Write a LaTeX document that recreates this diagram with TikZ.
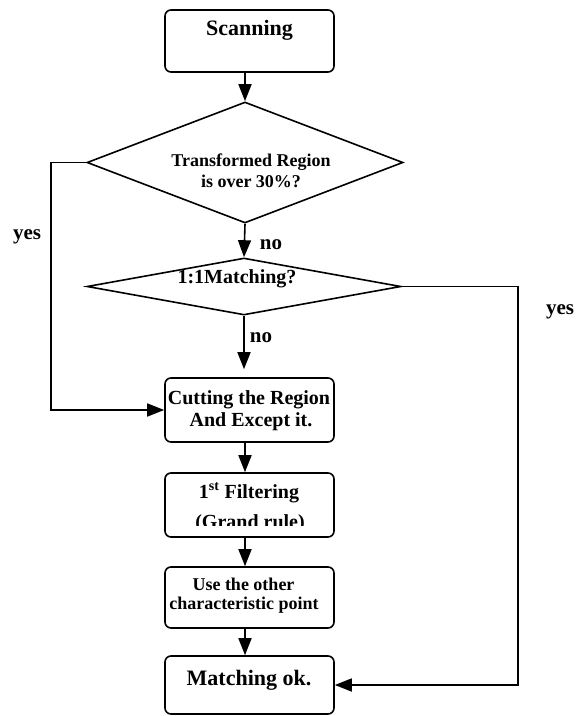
\documentclass[tikz,border=0pt]{standalone}
\usepackage{fontspec}
\setmainfont{Liberation Serif}
\usetikzlibrary{arrows.meta,shapes.geometric,calc}
\begin{document}
\begin{tikzpicture}[x=1pt,y=-1pt,
  box/.style={draw,line width=1.6pt,rounded corners=6pt,minimum width=169pt,inner sep=0pt},
  dia/.style={draw,diamond,line width=1.6pt,inner sep=0pt},
  txt/.style={anchor=base,font=\bfseries,inner sep=0pt},
  big/.style={txt,font=\bfseries\fontsize{22}{26}\selectfont},
  mid/.style={txt,font=\bfseries\fontsize{20}{24}\selectfont},
  sml/.style={txt,font=\bfseries\fontsize{18}{22}\selectfont},
  lbl/.style={txt,font=\bfseries\fontsize{21}{25}\selectfont},
  conn/.style={line width=1.6pt,-{Triangle[length=17pt,width=13pt]}}]
\useasboundingbox (0,0) rectangle (584,716);

% shapes
\node[box,minimum height=62pt] (scan) at (249.5,41) {};
\node[dia,minimum width=316pt,minimum height=121pt] (d1) at (245,162.5) {};
\node[dia,minimum width=314pt,minimum height=57pt] (d2) at (244,286.5) {};
\node[box,minimum height=64pt] (cut) at (249.5,410) {};
\node[box,minimum height=64pt] (filt) at (249.5,505) {};
\node[box,minimum height=61pt] (use) at (249.5,597.5) {};
\node[box,minimum height=58pt] (match) at (249.5,685) {};

% texts
\node[big] (tscan) at (249.5,35) {Scanning};
\node[sml] (td1a) at (251,166) {Transformed Region};
\node[sml] (td1b) at (251,187) {is over 30\%?};
\node[mid] (td2) at (237,283) {1:1Matching?};
\node[mid] (tcuta) at (249,404) {Cutting the Region};
\node[mid] (tcutb) at (251,426) {And Except it.};
\node[mid] (tfilt) at (249,498) {1\textsuperscript{st} Filtering};
\begin{scope}
  \clip (150,505) rectangle (350,525);
  \node[mid] (tgrand) at (250,528) {(Grand rule)};
\end{scope}
\node[sml] (tusea) at (243.5,590) {Use the other};
\node[sml] (tuseb) at (244,609) {characteristic point};
\node[big] (tmatch) at (249,685) {Matching ok.};

% labels
\node[lbl] (yesl) at (27,239) {yes};
\node[lbl] (yesr) at (560,314) {yes};
\node[lbl] (no1) at (271,249) {no};
\node[lbl] (no2) at (261,342) {no};

% connectors
\draw[conn] (scan.south -| d1.north) -- (d1.north);
\draw[conn] (d1.south) -- (d2.north);
\draw[conn,shorten >=8pt] (d2.south) -- (cut.north -| d2.south);
\draw[conn] (cut.south -| d1.south) -- (filt.north -| d1.south);
\draw[conn] (filt.south -| d1.south) -- (use.north -| d1.south);
\draw[conn] (use.south -| d1.south) -- (match.north -| d1.south);
\draw[conn] (d1.west) -- ++(-35,0) |- (cut.west);
\draw[conn] (d2.east) -- ++(116,0) |- (match.east);
\end{tikzpicture}
\end{document}
